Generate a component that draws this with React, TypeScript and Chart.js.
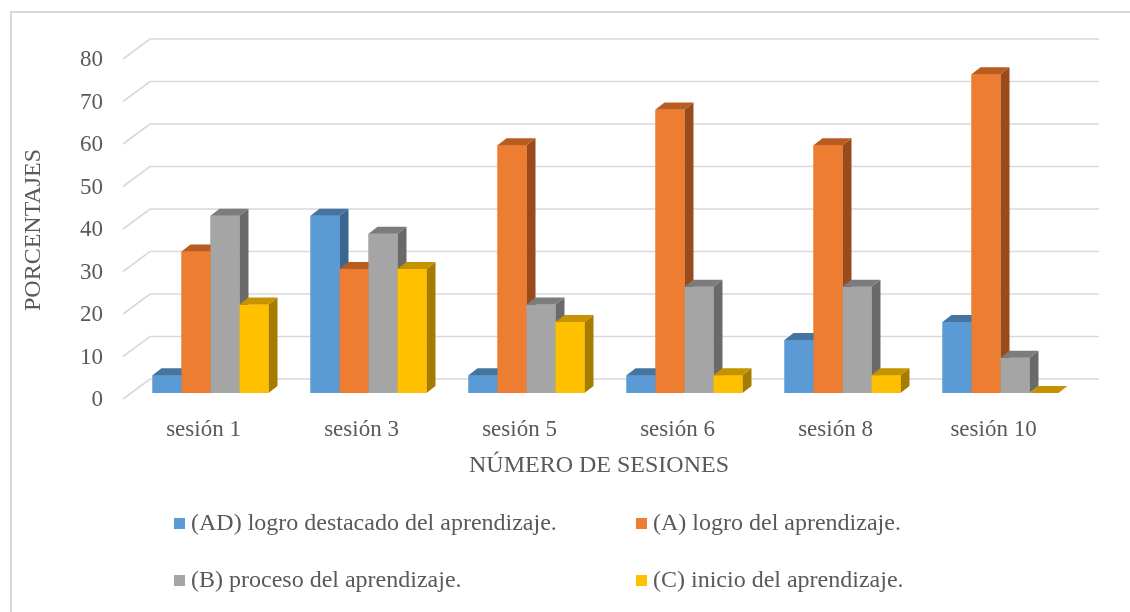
import React, { useEffect, useRef } from 'react';
import { Chart, registerables } from 'chart.js';

Chart.register(...registerables);

const categories = ['sesión 1', 'sesión 3', 'sesión 5', 'sesión 6', 'sesión 8', 'sesión 10'];
const seriesNames = [
  '(AD) logro destacado del aprendizaje.',
  '(A) logro del aprendizaje.',
  '(B) proceso del aprendizaje.',
  '(C) inicio del aprendizaje.',
];
const adValues = [4.2, 41.7, 4.2, 4.2, 12.5, 16.7];
const aValues = [33.3, 29.2, 58.3, 66.7, 58.3, 75.0];
const bValues = [41.7, 37.5, 20.8, 25.0, 25.0, 8.3];
const cValues = [20.8, 29.2, 16.7, 4.2, 4.2, 0];
const yMin = 0;
const yMax = 80;
const yStep = 10;
const yTitle = 'PORCENTAJES';
const xTitle = 'NÚMERO DE SESIONES';

const frontColors = ['#5B9BD5', '#ED7D31', '#A5A5A5', '#FFC000'];
const topColors = ['#45759F', '#B95C22', '#7C7C7C', '#C69300'];
const sideColors = ['#3A6690', '#9A4B1C', '#6A6A6A', '#A67C00'];

const FONT = "'Times New Roman', 'Liberation Serif', serif";
const TEXT = '#595959';
const DX = 9;
const DY = 7;

const framePlugin = {
  id: 'frame',
  beforeDraw(chart: any) {
    const { ctx, width, height } = chart;
    ctx.save();
    ctx.fillStyle = '#ffffff';
    ctx.fillRect(0, 0, width, height);
    ctx.strokeStyle = '#D9D9D9';
    ctx.lineWidth = 2;
    ctx.beginPath();
    ctx.moveTo(11, height);
    ctx.lineTo(11, 12);
    ctx.lineTo(width, 12);
    ctx.stroke();
    ctx.restore();
  },
};

const gridPlugin = {
  id: 'grid3d',
  beforeDatasetsDraw(chart: any) {
    const { ctx, chartArea, scales } = chart;
    const ys = scales.y;
    ctx.save();
    ctx.strokeStyle = '#D9D9D9';
    ctx.lineWidth = 1.6;
    ys.ticks.forEach((t: any) => {
      const py = ys.getPixelForValue(t.value);
      ctx.beginPath();
      ctx.moveTo(chartArea.left - 8.5, py + 6);
      ctx.lineTo(chartArea.left + 18.5, py - 14);
      ctx.lineTo(chartArea.right + 19.5, py - 14);
      ctx.stroke();
    });
    ctx.restore();
  },
};

const barsPlugin = {
  id: 'bars3d',
  afterDatasetsDraw(chart: any) {
    const { ctx } = chart;
    const n = chart.data.labels.length;
    const m = chart.data.datasets.length;
    ctx.save();
    for (let i = 0; i < n; i++) {
      for (let d = 0; d < m; d++) {
        const el = chart.getDatasetMeta(d).data[i];
        const { x, y, base, width } = el.getProps(['x', 'y', 'base', 'width'], true);
        const l = x - width / 2;
        const r = x + width / 2;
        ctx.fillStyle = sideColors[d];
        ctx.beginPath();
        ctx.moveTo(r, y);
        ctx.lineTo(r + DX, y - DY);
        ctx.lineTo(r + DX, base - DY);
        ctx.lineTo(r, base);
        ctx.closePath();
        ctx.fill();
        ctx.fillStyle = frontColors[d];
        ctx.fillRect(l, y, width, base - y);
        ctx.fillStyle = topColors[d];
        ctx.beginPath();
        ctx.moveTo(l, y);
        ctx.lineTo(l + DX, y - DY);
        ctx.lineTo(r + DX, y - DY);
        ctx.lineTo(r, y);
        ctx.closePath();
        ctx.fill();
      }
    }
    ctx.restore();
  },
};

const textPlugin = {
  id: 'texts',
  afterDraw(chart: any) {
    const { ctx } = chart;
    ctx.save();
    ctx.fillStyle = TEXT;
    ctx.font = `24px ${FONT}`;
    ctx.textBaseline = 'middle';
    ctx.textAlign = 'center';
    ctx.fillText(xTitle, 599, 466);
    ctx.save();
    ctx.translate(34, 230);
    ctx.rotate(-Math.PI / 2);
    ctx.fillText(yTitle, 0, 0);
    ctx.restore();
    const pos = [
      [174, 524],
      [636, 524],
      [174, 581],
      [636, 581],
    ];
    ctx.textAlign = 'left';
    chart.data.datasets.forEach((ds: any, k: number) => {
      const [px, py] = pos[k];
      ctx.fillStyle = frontColors[k];
      ctx.fillRect(px, py - 6, 11, 11);
      ctx.fillStyle = TEXT;
      ctx.fillText(ds.label, px + 17, py);
    });
    ctx.restore();
  },
};

export default function App() {
  const ref = useRef<HTMLCanvasElement | null>(null);
  useEffect(() => {
    const canvas = ref.current;
    if (!canvas) return;
    const seriesValues = [adValues, aValues, bValues, cValues];
    const chart = new Chart(canvas, {
      type: 'bar',
      data: {
        labels: categories,
        datasets: seriesNames.map((name, k) => ({
          label: name,
          data: seriesValues[k],
          backgroundColor: frontColors[k],
          borderWidth: 0,
          barPercentage: 1,
          categoryPercentage: 0.734,
        })),
      },
      options: {
        responsive: false,
        animation: false,
        devicePixelRatio: 1,
        layout: { padding: { top: 53, left: 0, right: 50.5, bottom: 149 } },
        plugins: { legend: { display: false }, tooltip: { enabled: false } },
        scales: {
          x: {
            grid: { display: false, drawTicks: false },
            border: { display: false },
            ticks: {
              color: TEXT,
              font: { family: FONT, size: 23 },
              padding: 23,
              labelOffset: -7,
              maxRotation: 0,
              autoSkip: false,
            },
            afterFit: (s: any) => {
              s.height = 70;
            },
          },
          y: {
            min: yMin,
            max: yMax,
            grid: { display: false, drawTicks: false },
            border: { display: false },
            ticks: {
              stepSize: yStep,
              color: TEXT,
              font: { family: FONT, size: 23 },
              padding: 28.5,
              labelOffset: 7,
            },
            afterFit: (s: any) => {
              s.width = 131.5;
            },
          },
        },
      },
      plugins: [framePlugin, gridPlugin, barsPlugin, textPlugin],
    });
    return () => chart.destroy();
  }, []);
  return (
    <div style={{ position: 'fixed', left: 0, top: 0, width: 1130, height: 612 }}>
      <canvas ref={ref} width={1130} height={612} style={{ width: 1130, height: 612, display: 'block' }} />
    </div>
  );
}
